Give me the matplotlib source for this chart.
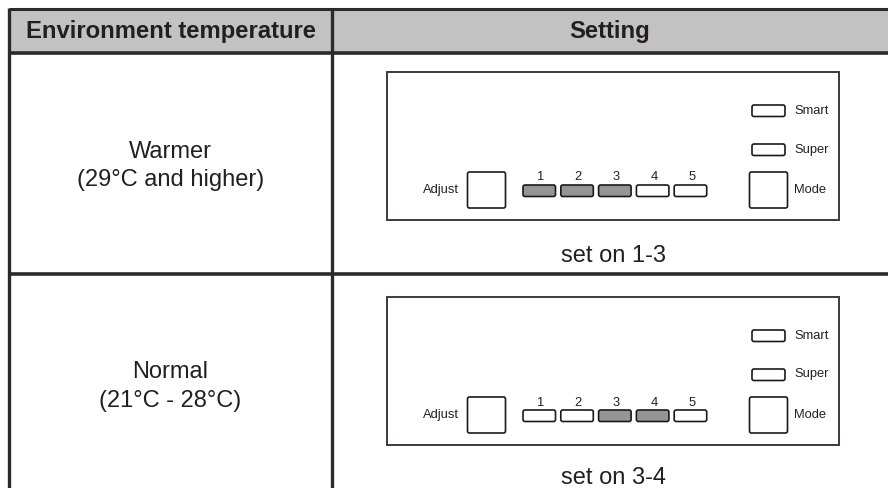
import matplotlib.pyplot as plt
from matplotlib.patches import Rectangle, FancyBboxPatch

plt.rcParams['font.family'] = ['Liberation Sans', 'DejaVu Sans']

header_labels = ["Environment temperature", "Setting"]
env_names = ["Warmer", "Normal"]
env_ranges = ["(29°C and higher)", "(21°C - 28°C)"]
active_levels = [[1, 2, 3], [3, 4]]
setting_texts = ["set on 1-3", "set on 3-4"]
level_labels = ["1", "2", "3", "4", "5"]

LINE = "#2b2a2a"
TEXT = "#231f20"
FILL_ON = "#959595"
SMALL = 9.3


def rbox(ax, x0, y0, w, h, face="white", lw=1.2, r=2.0):
    ax.add_patch(FancyBboxPatch((x0, y0), w, h,
                                boxstyle=f"round,pad=0,rounding_size={r}",
                                facecolor=face, edgecolor="#1a1a1a", lw=lw))


def draw_panel(ax, top, levels_on):
    # outer frame
    ax.add_patch(Rectangle((387, top), 452, 148, facecolor="white",
                           edgecolor="#3d3a39", lw=1.4))
    # Smart / Super indicators
    rbox(ax, 752, top + 33, 33, 11.5)
    ax.text(794, top + 39, "Smart", fontsize=SMALL, color=TEXT, va="center", ha="left")
    rbox(ax, 752, top + 72, 33, 11.5)
    ax.text(794, top + 77.5, "Super", fontsize=SMALL, color=TEXT, va="center", ha="left")
    # Adjust button
    rbox(ax, 467.5, top + 100, 38, 36)
    ax.text(459, top + 118, "Adjust", fontsize=SMALL, color=TEXT, va="center", ha="right")
    # Mode button
    rbox(ax, 749.5, top + 100, 38, 36)
    ax.text(794, top + 118, "Mode", fontsize=SMALL, color=TEXT, va="center", ha="left")
    # level buttons
    for i, lab in enumerate(level_labels):
        x0 = 523 + i * 37.8
        face = FILL_ON if (i + 1) in levels_on else "white"
        rbox(ax, x0, top + 113, 32.5, 11.5, face=face)
        ax.text(x0 + 17.5, top + 105.5, lab, fontsize=SMALL, color=TEXT,
                va="center", ha="center")


fig = plt.figure(figsize=(8.88, 4.88), dpi=100)
ax = fig.add_axes([0, 0, 1, 1])
ax.set_xlim(0, 888)
ax.set_ylim(488, 0)
ax.axis("off")

# header
ax.add_patch(Rectangle((9, 9), 900, 44, facecolor="#c2c2c2", edgecolor="none"))
ax.plot([9, 888], [9, 9], color=LINE, lw=2.2, solid_capstyle="butt")
ax.plot([9, 888], [53, 53], color=LINE, lw=2.6, solid_capstyle="butt")
ax.plot([9, 9], [8, 488], color=LINE, lw=2.4, solid_capstyle="butt")
ax.plot([332, 332], [8, 488], color=LINE, lw=2.4, solid_capstyle="butt")
ax.plot([9, 888], [274, 274], color=LINE, lw=2.6, solid_capstyle="butt")

ax.text(170.5, 31.5, header_labels[0], fontsize=17.2, fontweight="bold",
        color=TEXT, ha="center", va="center")
ax.text(610, 31.5, header_labels[1], fontsize=17.2, fontweight="bold",
        color=TEXT, ha="center", va="center")

row_tops = [53, 274]
for r in range(len(env_names)):
    off = row_tops[r] - 53
    ax.text(170.5, 151.5 + off, env_names[r], fontsize=17, color=TEXT,
            ha="center", va="center")
    ax.text(170.5, 180 + off, env_ranges[r], fontsize=17, color=TEXT,
            ha="center", va="center")
    draw_panel(ax, 72 + r * 225, active_levels[r])
    ax.text(613.5, 255.5 + r * 222, setting_texts[r], fontsize=17, color=TEXT,
            ha="center", va="center")

fig.savefig("out.png", dpi=100)
